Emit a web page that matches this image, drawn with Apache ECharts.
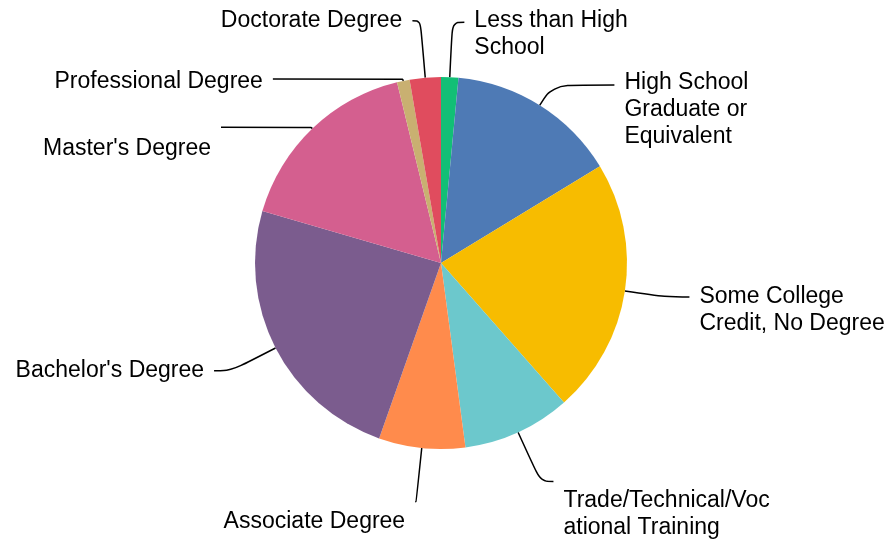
<!DOCTYPE html>
<html>
<head>
<meta charset="utf-8">
<script src="https://cdn.jsdelivr.net/npm/echarts@6/dist/echarts.min.js"></script>
<style>
  html, body { margin: 0; padding: 0; background: #fff; }
  #chart { width: 896px; height: 544px; }
</style>
</head>
<body>
<div id="chart"></div>
<script>
// categories, in drawing order (clockwise from the top)
var categories = [
  "Less than High School",
  "High School Graduate or Equivalent",
  "Some College Credit, No Degree",
  "Trade/Technical/Vocational Training",
  "Associate Degree",
  "Bachelor's Degree",
  "Master's Degree",
  "Professional Degree",
  "Doctorate Degree"
];
// label text as wrapped in the picture
var labelText = [
  "Less than High\nSchool",
  "High School\nGraduate or\nEquivalent",
  "Some College\nCredit, No Degree",
  "Trade/Technical/Voc\national Training",
  "Associate Degree",
  "Bachelor's Degree",
  "Master's Degree",
  "Professional Degree",
  "Doctorate Degree"
];
// share in percent
var values = [1.5, 14.8, 22.2, 9.4, 7.5, 24.1, 16.7, 1.1, 2.7];
var colorList = [
  "#12bf76", "#4e7ab5", "#f7bc00", "#6cc8cc", "#ff8b4c",
  "#7b5c8e", "#d45f8f", "#c9b071", "#e04c5e"
];

// label line lengths and a blank top line (its height) per slice
var lineLen = [55, 24, 40, 54, 54, 50, 2, 2, 57];
var lineLen2 = [12, 62, 25, 13, 1, 17, 90, 130, 8];
var padTop = [23, 50, 27, 65, 40, 0, 42, 6, 0];

var myChart = echarts.init(document.getElementById("chart"));
var option = {
  backgroundColor: "#fff",
  color: colorList,
  series: [
    {
      type: "pie",
      center: [441, 263],
      radius: 186,
      startAngle: 90,
      clockwise: true,
      avoidLabelOverlap: false,
      labelLayout: { hideOverlap: false },
      label: {
        show: true,
        color: "#000",
        fontFamily: "Liberation Sans, Arial, sans-serif",
        fontSize: 23,
        lineHeight: 27,
        distanceToLabelLine: 10,
        formatter: function (p) {
          var t = labelText[p.dataIndex];
          return padTop[p.dataIndex] > 0 ? "{g| }\n" + t : t;
        }
      },
      labelLine: {
        show: true,
        smooth: 0.4,
        lineStyle: { color: "#000", width: 1.5 }
      },
      emphasis: { disabled: true },
      data: categories.map(function (c, i) {
        return {
          name: c,
          value: values[i],
          label: { rich: { g: { fontSize: 1, lineHeight: padTop[i] || 1 } } },
          labelLine: { length: lineLen[i], length2: lineLen2[i] }
        };
      })
    }
  ]
};
myChart.setOption(option);
</script>
</body>
</html>
